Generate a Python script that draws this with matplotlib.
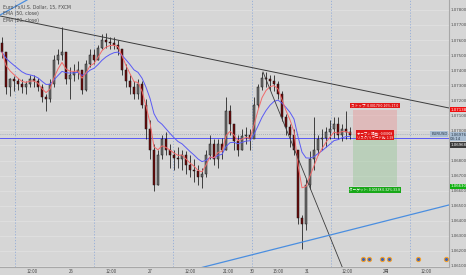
import matplotlib
matplotlib.use("Agg")
import matplotlib.pyplot as plt
import matplotlib.transforms as mtransforms
import numpy as np
import pandas as pd

# ---------------- data (EUR/USD, coarse candles) ----------------
open_first = 1.0758
highs = [
    1.0762, 1.0750, 1.0735, 1.0736, 1.0735, 1.0734, 1.0733, 1.0737, 1.0737, 1.0735,
    1.0731, 1.0724, 1.0734, 1.0750, 1.0754, 1.0769, 1.0750, 1.0742, 1.0744, 1.0746,
    1.0740, 1.0747, 1.0754, 1.0754, 1.0757, 1.0764, 1.0765, 1.0762, 1.0762, 1.0760,
    1.0754, 1.0744, 1.0737, 1.0733, 1.0734, 1.0733, 1.0721, 1.0707, 1.0691, 1.0687,
    1.0697, 1.0699, 1.0691, 1.0687, 1.0689, 1.0687, 1.0686, 1.0684, 1.0681, 1.0677,
    1.0675, 1.0687, 1.0697, 1.0694, 1.0694, 1.0695, 1.0722, 1.0717, 1.0702, 1.0697,
    1.0701, 1.0702, 1.0701, 1.0722, 1.0731, 1.0739, 1.0739, 1.0737, 1.0737, 1.0733,
    1.0726, 1.0711, 1.0704, 1.0701, 1.0687, 1.0644, 1.0668, 1.0686, 1.0709, 1.0697,
    1.0701, 1.0702, 1.0707, 1.0709, 1.0709, 1.0704, 1.0713, 1.0702]
lows = [
    1.0748, 1.0724, 1.0723, 1.0726, 1.0727, 1.0725, 1.0724, 1.0729, 1.0729, 1.0726,
    1.0719, 1.0713, 1.0719, 1.0729, 1.0744, 1.0747, 1.0731, 1.0721, 1.0733, 1.0734,
    1.0724, 1.0726, 1.0742, 1.0744, 1.0747, 1.0754, 1.0755, 1.0754, 1.0754, 1.0750,
    1.0737, 1.0729, 1.0724, 1.0721, 1.0721, 1.0715, 1.0694, 1.0681, 1.0660, 1.0664,
    1.0681, 1.0684, 1.0675, 1.0674, 1.0675, 1.0674, 1.0671, 1.0669, 1.0666, 1.0664,
    1.0662, 1.0669, 1.0681, 1.0677, 1.0675, 1.0681, 1.0687, 1.0697, 1.0687, 1.0683,
    1.0687, 1.0691, 1.0687, 1.0713, 1.0715, 1.0727, 1.0729, 1.0727, 1.0726, 1.0721,
    1.0706, 1.0697, 1.0689, 1.0684, 1.0638, 1.0621, 1.0634, 1.0661, 1.0674, 1.0684,
    1.0687, 1.0689, 1.0694, 1.0695, 1.0694, 1.0693, 1.0694, 1.0694]
closes = [
    1.0752, 1.0729, 1.0734, 1.0733, 1.0731, 1.0729, 1.0731, 1.0734, 1.0733, 1.0729,
    1.0722, 1.0721, 1.0731, 1.0747, 1.0750, 1.0752, 1.0734, 1.0737, 1.0739, 1.0740,
    1.0727, 1.0744, 1.0750, 1.0747, 1.0755, 1.0760, 1.0759, 1.0758, 1.0757, 1.0754,
    1.0740, 1.0733, 1.0729, 1.0724, 1.0731, 1.0717, 1.0701, 1.0687, 1.0664, 1.0684,
    1.0694, 1.0687, 1.0684, 1.0682, 1.0681, 1.0684, 1.0677, 1.0674, 1.0673, 1.0669,
    1.0671, 1.0684, 1.0691, 1.0681, 1.0691, 1.0687, 1.0713, 1.0704, 1.0693, 1.0687,
    1.0696, 1.0697, 1.0694, 1.0717, 1.0729, 1.0735, 1.0734, 1.0733, 1.0731, 1.0724,
    1.0709, 1.0702, 1.0697, 1.0687, 1.0642, 1.0638, 1.0664, 1.0681, 1.0687, 1.0694,
    1.0695, 1.0699, 1.0701, 1.0704, 1.0697, 1.0701, 1.0699, 1.0697]

BARS_PER_CANDLE = 4.9          # each drawn candle groups ~5 fifteen-minute bars
ema_periods = [50, 20]

time_tick_pos = [7.5, 17.25, 27.25, 37, 47, 56.5, 62.5, 69, 76.25, 86.25, 96, 106]
time_tick_labels = ["12:00", "26", "12:00", "27", "12:00", "21:00", "30", "15:00",
                    "31", "12:00", "2月", "12:00"]
day_grid_pos = [3.25, 23, 42.75, 62.5, 82.25, 102]
price_ticks = [1.061, 1.062, 1.063, 1.064, 1.065, 1.066, 1.067, 1.068, 1.069,
               1.070, 1.071, 1.072, 1.073, 1.074, 1.075, 1.076, 1.077, 1.078]

# drawings
trend_down = ([-0.5, 111.75], [1.07760, 1.07149])
trend_steep = ([65.25, 88.0], [1.07388, 1.05900])
trend_up_blue = ([48.5, 111.75], [1.06080, 1.06505])
trend_corner_blue = ([-0.5, 6.25], [1.07766, 1.07866])
hline_blue = 1.06950
last_price = 1.06976
entry_price, stop_price, target_price = 1.06968, 1.07138, 1.06630
pos_x = (87.75, 98.75)

# ---------------- style ----------------
BG = "#d6d6d6"
GRID = "#e0e0e0"
TXT = "#4a4a4a"
plt.rcParams['font.family'] = ['DejaVu Sans', 'Noto Sans CJK JP']
JP = ['Noto Sans CJK JP', 'DejaVu Sans']
AXFS = 2.8

fig = plt.figure(figsize=(4.66, 2.75), dpi=100)
fig.patch.set_facecolor(BG)
ax = fig.add_axes([0, 8 / 275, 449 / 466, 267 / 275])
ax.set_facecolor(BG)
ax.set_xlim(-0.5, 111.75)
ax.set_ylim(1.06093, 1.07866)

for p in price_ticks:
    ax.axhline(p, color=GRID, lw=0.6, zorder=0)
for d in day_grid_pos:
    ax.axvline(d, color="#93acd8", lw=0.6, ls=(0, (1.5, 2)), zorder=0)

# candles
x = np.arange(len(closes))
opens = np.array([open_first] + closes[:-1])
c = np.array(closes)
bottoms = np.minimum(opens, c)
heights = np.maximum(np.abs(c - opens), 0.00003)
colors = np.where(c >= opens, "#6e6e6e", "#6e0a0a")
ax.vlines(x, lows, highs, color="#151515", lw=0.55, zorder=3)
ax.bar(x, heights, bottom=bottoms, width=0.72, color=colors, edgecolor="#151515",
       linewidth=0.35, zorder=4)

# EMAs computed from the closes
s = pd.Series(closes)
ema_cols = {50: "#5a5af5", 20: "#f26a6a"}
for n in ema_periods:
    alpha = 1 - (1 - 2 / (n + 1)) ** BARS_PER_CANDLE
    ax.plot(x, s.ewm(alpha=alpha, adjust=False).mean(), color=ema_cols[n], lw=0.7, zorder=5)

# drawings
ax.plot(*trend_down, color="#3c3c3c", lw=0.7, zorder=6)
ax.plot(*trend_steep, color="#3c3c3c", lw=0.6, zorder=6)
ax.plot(*trend_up_blue, color="#4a8ee0", lw=0.9, zorder=6)
ax.plot(*trend_corner_blue, color="#4a8ee0", lw=0.9, zorder=6)
ax.axhline(hline_blue, color="#5a5af5", lw=0.7, zorder=2)
ax.axhline(last_price, color="#9aa8b4", lw=0.6, ls=(0, (1, 1.5)), zorder=2)

# position tool (short)
ax.fill_between(pos_x, entry_price, stop_price, color="#e89a9a", alpha=0.45, lw=0, zorder=1)
ax.fill_between(pos_x, target_price, entry_price, color="#9ac89a", alpha=0.45, lw=0, zorder=1)
cx = sum(pos_x) / 2
ax.annotate("ストップ: 0.00170 0.16% 17.0", (cx, stop_price), xytext=(0, 1.5),
            textcoords="offset points", ha="center", va="bottom", fontsize=2.6, color="white",
            family=JP, bbox=dict(boxstyle="square,pad=0.25", fc="#e01818", ec="none"), zorder=8)
ax.annotate("オープン 損益: -0.00008\nリスク/リワード比: 1.99", (cx, entry_price), xytext=(0, 0),
            textcoords="offset points", ha="center", va="center", fontsize=2.4, color="white",
            family=JP, linespacing=1.0,
            bbox=dict(boxstyle="square,pad=0.25", fc="#e01818", ec="none"), zorder=8)
ax.annotate("ターゲット: 0.00338 0.32% 33.8", (cx, target_price), xytext=(0, -1.5),
            textcoords="offset points", ha="center", va="top", fontsize=2.6, color="white",
            family=JP, bbox=dict(boxstyle="square,pad=0.25", fc="#18a818", ec="none"), zorder=8)

# axes styling
for sp in ("top", "left"):
    ax.spines[sp].set_visible(False)
for sp in ("right", "bottom"):
    ax.spines[sp].set_color("#a8a8a8")
    ax.spines[sp].set_linewidth(0.8)
ax.yaxis.tick_right()
ax.set_yticks(price_ticks)
ax.set_yticklabels([f"{p:.5f}" for p in price_ticks])
ax.set_xticks(time_tick_pos)
ax.set_xticklabels(time_tick_labels, family=JP)
ax.tick_params(axis="y", length=0, pad=1.0, labelsize=AXFS, labelcolor=TXT)
ax.tick_params(axis="x", length=0, pad=1.5, labelsize=3.2, labelcolor=TXT)

# price-axis markers
bt = mtransforms.blended_transform_factory(ax.transAxes, ax.transData)
def axis_label(price, text, fc, dy=0, color="white"):
    ax.annotate(text, (1.0, price), xycoords=bt, xytext=(0.9, dy), textcoords="offset points",
                ha="left", va="center", fontsize=AXFS, color=color, annotation_clip=False,
                linespacing=1.0,
                bbox=dict(boxstyle="square,pad=0.15", fc=fc, ec="none"), zorder=9)

axis_label(stop_price, "1.07138", "#f01010")
axis_label(last_price, "1.06976\n03:14", "#a9bdd2", dy=-2.0, color="#2a3a4a")
axis_label(entry_price, "1.06968", "#3a3a3a", dy=-7.0)
axis_label(target_price, "1.06630", "#10b010")
ax.annotate("EURUSD", (1.0, last_price), xycoords=bt, xytext=(-1, 0), textcoords="offset points",
            ha="right", va="center", fontsize=AXFS, color="#2a3a4a", annotation_clip=False,
            bbox=dict(boxstyle="square,pad=0.2", fc="#a9bdd2", ec="none"), zorder=9)

# legend text
ax.text(0.006, 0.985, "Euro Fx/U.S. Dollar, 15, FXCM", transform=ax.transAxes, fontsize=3.3,
        color=TXT, va="top", zorder=9)
ax.text(0.006, 0.958, "EMA (50, close)", transform=ax.transAxes, fontsize=3.3, color=TXT,
        va="top", zorder=9)
ax.text(0.006, 0.934, "EMA (20, close)", transform=ax.transAxes, fontsize=3.3, color=TXT,
        va="top", zorder=9)

# event markers along the bottom
for fx in (0.808, 0.822, 0.851, 0.866, 0.930, 0.994):
    ax.scatter([fx], [0.03], s=9, transform=ax.transAxes, facecolor="#3c62b8",
               edgecolor="#f0a030", linewidth=0.8, zorder=9, clip_on=False)

fig.savefig("out.png", dpi=100, facecolor=BG)
